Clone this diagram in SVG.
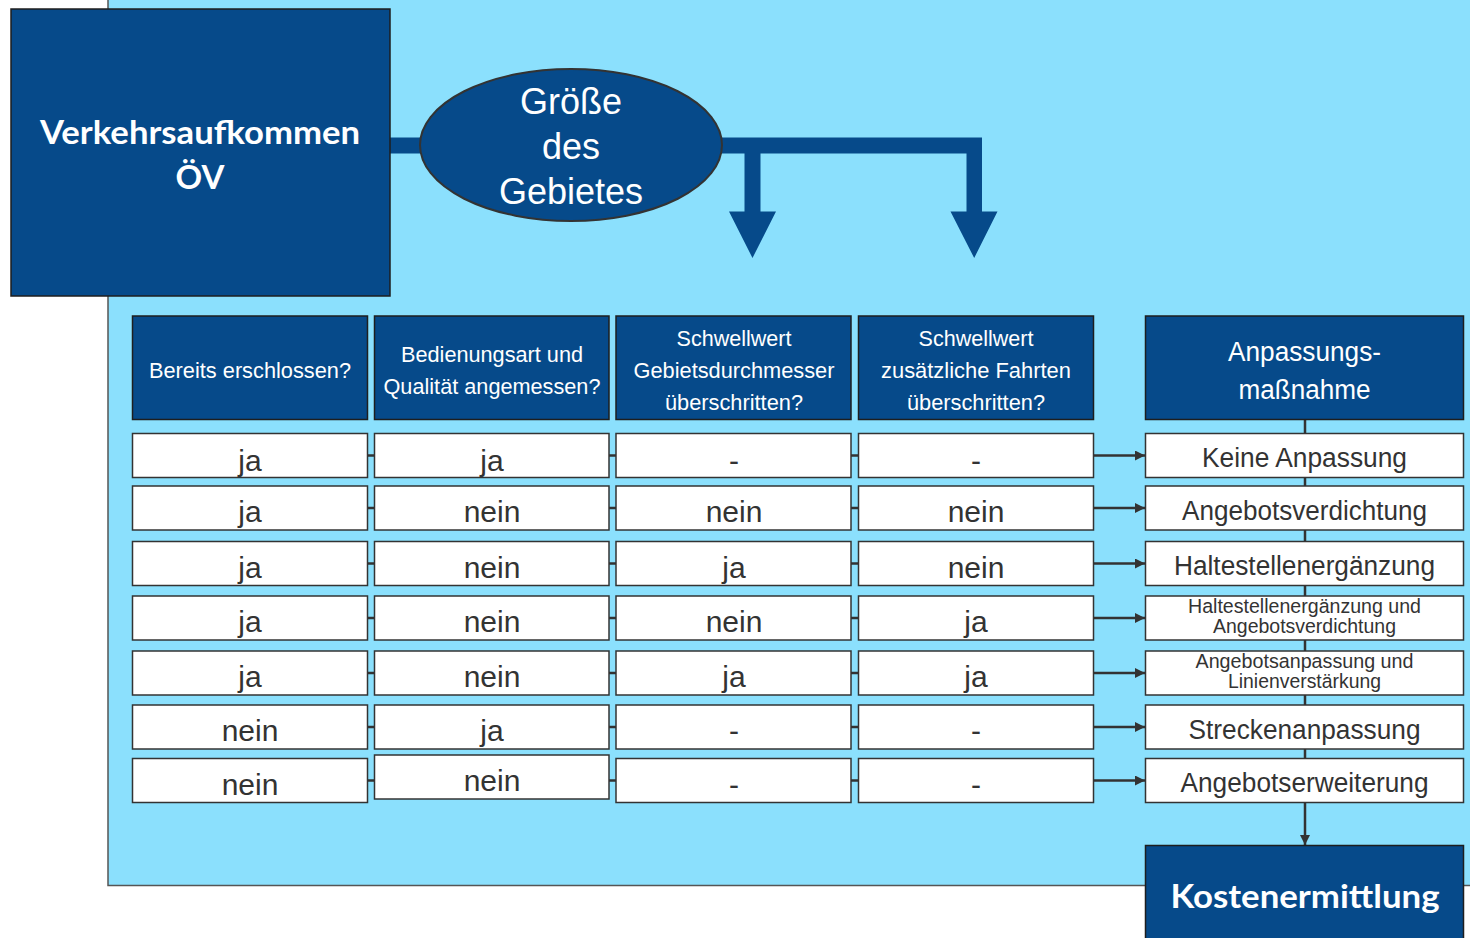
<svg xmlns="http://www.w3.org/2000/svg" width="1470" height="938" viewBox="0 0 1470 938">
<defs>
<marker id="ah" viewBox="0 0 10 10" refX="10" refY="5" markerWidth="10" markerHeight="10" markerUnits="userSpaceOnUse" orient="auto">
<path d="M0,0 L10,5 L0,10 Z" fill="#333"/>
</marker>
</defs>
<style>
.dark{fill:#064a8a;stroke:#1e1e1e;stroke-width:1.5}
.cell{fill:#fff;stroke:#333;stroke-width:1.5}
.ln{stroke:#333;stroke-width:2.5;fill:none}
.big{font-family:Lato,"Open Sans","Liberation Sans",sans-serif;font-weight:bold;fill:#fff;text-anchor:middle}
.hd{font-family:"Liberation Sans",Arial,sans-serif;font-size:22.5px;fill:#fff;text-anchor:middle}
.hd5{font-family:"Liberation Sans",Arial,sans-serif;font-size:27px;fill:#fff;text-anchor:middle}
.el{font-family:"Liberation Sans",Arial,sans-serif;font-size:36px;fill:#fff;text-anchor:middle}
.v{font-family:"Liberation Sans",Arial,sans-serif;font-size:30px;fill:#333;text-anchor:middle}
.r{font-family:"Liberation Sans",Arial,sans-serif;font-size:27px;fill:#333;text-anchor:middle}
.rs{font-family:"Liberation Sans",Arial,sans-serif;font-size:20.5px;fill:#333;text-anchor:middle}
</style>
<rect x="0" y="0" width="1470" height="938" fill="#fff"/>
<rect id="background" x="108" y="-3" width="1366" height="888.5" fill="#8be0fd" stroke="#555" stroke-width="1.5"/>

<g id="connectors">
<rect x="385" y="137.5" width="60" height="16" fill="#064a8a"/>
<path d="M700,137.5 H982 V211.5 H997.5 L974.2,258 L950.5,211.5 H966.5 V153.5 H760.5 V211.5 H776 L752.5,258 L729,211.5 H744.5 V153.5 H700 Z" fill="#064a8a"/>
<line class="ln" x1="1305" y1="419" x2="1305" y2="803"/>
<line class="ln" x1="1305" y1="802" x2="1305" y2="845" marker-end="url(#ah)"/>
<g class="ln">
<path d="M367,455.5 H375 M609,455.5 H616 M851,455.5 H858"/>
<path d="M367,508 H375 M609,508 H616 M851,508 H858"/>
<path d="M367,563.5 H375 M609,563.5 H616 M851,563.5 H858"/>
<path d="M367,618 H375 M609,618 H616 M851,618 H858"/>
<path d="M367,673 H375 M609,673 H616 M851,673 H858"/>
<path d="M367,727 H375 M609,727 H616 M851,727 H858"/>
<path d="M367,780.5 H375 M609,780.5 H616 M851,780.5 H858"/>
</g>
<line class="ln" x1="1093" y1="455.5" x2="1145" y2="455.5" marker-end="url(#ah)"/>
<line class="ln" x1="1093" y1="508" x2="1145" y2="508" marker-end="url(#ah)"/>
<line class="ln" x1="1093" y1="563.5" x2="1145" y2="563.5" marker-end="url(#ah)"/>
<line class="ln" x1="1093" y1="618" x2="1145" y2="618" marker-end="url(#ah)"/>
<line class="ln" x1="1093" y1="673" x2="1145" y2="673" marker-end="url(#ah)"/>
<line class="ln" x1="1093" y1="727" x2="1145" y2="727" marker-end="url(#ah)"/>
<line class="ln" x1="1093" y1="780.5" x2="1145" y2="780.5" marker-end="url(#ah)"/>
</g>

<g id="verkehrsaufkommen">
<rect class="dark" x="11" y="9" width="379" height="287"/>
<text class="big" x="200" y="143.5" font-size="33" textLength="320" lengthAdjust="spacingAndGlyphs">Verkehrsaufkommen</text>
<text class="big" x="200" y="188.5" font-size="33">ÖV</text>
</g>

<g id="groesse">
<ellipse cx="571" cy="145" rx="151" ry="76" fill="#064a8a" stroke="#333" stroke-width="2"/>
<text class="el" x="571" y="114">Größe</text>
<text class="el" x="571" y="159">des</text>
<text class="el" x="571" y="204">Gebietes</text>
</g>

<g id="h1"><rect class="dark" x="132.5" y="316" width="235" height="103.5"/>
<text class="hd" x="250" y="377.5" textLength="202" lengthAdjust="spacingAndGlyphs">Bereits erschlossen?</text></g>
<g id="h2"><rect class="dark" x="374.5" y="316" width="234.5" height="103.5"/>
<text class="hd" x="492" y="361.5" textLength="182" lengthAdjust="spacingAndGlyphs">Bedienungsart und</text>
<text class="hd" x="492" y="393.5" textLength="217" lengthAdjust="spacingAndGlyphs">Qualität angemessen?</text></g>
<g id="h3"><rect class="dark" x="616" y="316" width="235" height="103.5"/>
<text class="hd" x="734" y="346" textLength="115" lengthAdjust="spacingAndGlyphs">Schwellwert</text>
<text class="hd" x="734" y="378" textLength="201" lengthAdjust="spacingAndGlyphs">Gebietsdurchmesser</text>
<text class="hd" x="734" y="410" textLength="138" lengthAdjust="spacingAndGlyphs">überschritten?</text></g>
<g id="h4"><rect class="dark" x="858.5" y="316" width="235" height="103.5"/>
<text class="hd" x="976" y="346" textLength="115" lengthAdjust="spacingAndGlyphs">Schwellwert</text>
<text class="hd" x="976" y="378" textLength="190" lengthAdjust="spacingAndGlyphs">zusätzliche Fahrten</text>
<text class="hd" x="976" y="410" textLength="138" lengthAdjust="spacingAndGlyphs">überschritten?</text></g>
<g id="h5"><rect class="dark" x="1145.5" y="316" width="318" height="103.5"/>
<text class="hd5" x="1304.5" y="361" textLength="153" lengthAdjust="spacingAndGlyphs">Anpassungs-</text>
<text class="hd5" x="1304.5" y="399" textLength="132" lengthAdjust="spacingAndGlyphs">maßnahme</text></g>

<g id="row1">
<rect class="cell" x="132.5" y="433.5" width="235" height="44"/><text class="v" x="250" y="470.5">ja</text>
<rect class="cell" x="374.5" y="433.5" width="234.5" height="44"/><text class="v" x="492" y="470.5">ja</text>
<rect class="cell" x="616" y="433.5" width="235" height="44"/><text class="v" x="734" y="470.5">-</text>
<rect class="cell" x="858.5" y="433.5" width="235" height="44"/><text class="v" x="976" y="470.5">-</text>
<rect class="cell" x="1145.5" y="433.5" width="318" height="44"/><text class="r" x="1304.5" y="467" textLength="205" lengthAdjust="spacingAndGlyphs">Keine Anpassung</text>
</g>
<g id="row2">
<rect class="cell" x="132.5" y="486" width="235" height="44"/><text class="v" x="250" y="522">ja</text>
<rect class="cell" x="374.5" y="486" width="234.5" height="44"/><text class="v" x="492" y="522">nein</text>
<rect class="cell" x="616" y="486" width="235" height="44"/><text class="v" x="734" y="522">nein</text>
<rect class="cell" x="858.5" y="486" width="235" height="44"/><text class="v" x="976" y="522">nein</text>
<rect class="cell" x="1145.5" y="486" width="318" height="44"/><text class="r" x="1304.5" y="519.5" textLength="245" lengthAdjust="spacingAndGlyphs">Angebotsverdichtung</text>
</g>
<g id="row3">
<rect class="cell" x="132.5" y="541.5" width="235" height="44"/><text class="v" x="250" y="577.5">ja</text>
<rect class="cell" x="374.5" y="541.5" width="234.5" height="44"/><text class="v" x="492" y="577.5">nein</text>
<rect class="cell" x="616" y="541.5" width="235" height="44"/><text class="v" x="734" y="577.5">ja</text>
<rect class="cell" x="858.5" y="541.5" width="235" height="44"/><text class="v" x="976" y="577.5">nein</text>
<rect class="cell" x="1145.5" y="541.5" width="318" height="44"/><text class="r" x="1304.5" y="575" textLength="261" lengthAdjust="spacingAndGlyphs">Haltestellenergänzung</text>
</g>
<g id="row4">
<rect class="cell" x="132.5" y="596" width="235" height="44"/><text class="v" x="250" y="632">ja</text>
<rect class="cell" x="374.5" y="596" width="234.5" height="44"/><text class="v" x="492" y="632">nein</text>
<rect class="cell" x="616" y="596" width="235" height="44"/><text class="v" x="734" y="632">nein</text>
<rect class="cell" x="858.5" y="596" width="235" height="44"/><text class="v" x="976" y="632">ja</text>
<rect class="cell" x="1145.5" y="596" width="318" height="44"/>
<text class="rs" x="1304.5" y="612.5" textLength="233" lengthAdjust="spacingAndGlyphs">Haltestellenergänzung und</text>
<text class="rs" x="1304.5" y="633" textLength="183" lengthAdjust="spacingAndGlyphs">Angebotsverdichtung</text>
</g>
<g id="row5">
<rect class="cell" x="132.5" y="651" width="235" height="44"/><text class="v" x="250" y="687">ja</text>
<rect class="cell" x="374.5" y="651" width="234.5" height="44"/><text class="v" x="492" y="687">nein</text>
<rect class="cell" x="616" y="651" width="235" height="44"/><text class="v" x="734" y="687">ja</text>
<rect class="cell" x="858.5" y="651" width="235" height="44"/><text class="v" x="976" y="687">ja</text>
<rect class="cell" x="1145.5" y="651" width="318" height="44"/>
<text class="rs" x="1304.5" y="667.5" textLength="218" lengthAdjust="spacingAndGlyphs">Angebotsanpassung und</text>
<text class="rs" x="1304.5" y="688" textLength="153" lengthAdjust="spacingAndGlyphs">Linienverstärkung</text>
</g>
<g id="row6">
<rect class="cell" x="132.5" y="705" width="235" height="44"/><text class="v" x="250" y="741">nein</text>
<rect class="cell" x="374.5" y="705" width="234.5" height="44"/><text class="v" x="492" y="741">ja</text>
<rect class="cell" x="616" y="705" width="235" height="44"/><text class="v" x="734" y="741">-</text>
<rect class="cell" x="858.5" y="705" width="235" height="44"/><text class="v" x="976" y="741">-</text>
<rect class="cell" x="1145.5" y="705" width="318" height="44"/><text class="r" x="1304.5" y="738.5" textLength="232" lengthAdjust="spacingAndGlyphs">Streckenanpassung</text>
</g>
<g id="row7">
<rect class="cell" x="132.5" y="758.5" width="235" height="44"/><text class="v" x="250" y="794.5">nein</text>
<rect class="cell" x="374.5" y="755" width="234.5" height="44"/><text class="v" x="492" y="791">nein</text>
<rect class="cell" x="616" y="758.5" width="235" height="44"/><text class="v" x="734" y="794.5">-</text>
<rect class="cell" x="858.5" y="758.5" width="235" height="44"/><text class="v" x="976" y="794.5">-</text>
<rect class="cell" x="1145.5" y="758.5" width="318" height="44"/><text class="r" x="1304.5" y="792" textLength="248" lengthAdjust="spacingAndGlyphs">Angebotserweiterung</text>
</g>

<g id="kostenermittlung">
<rect class="dark" x="1145.5" y="845.5" width="318" height="100"/>
<text class="big" x="1305" y="908" font-size="32" textLength="269" lengthAdjust="spacingAndGlyphs">Kostenermittlung</text>
</g>
</svg>
